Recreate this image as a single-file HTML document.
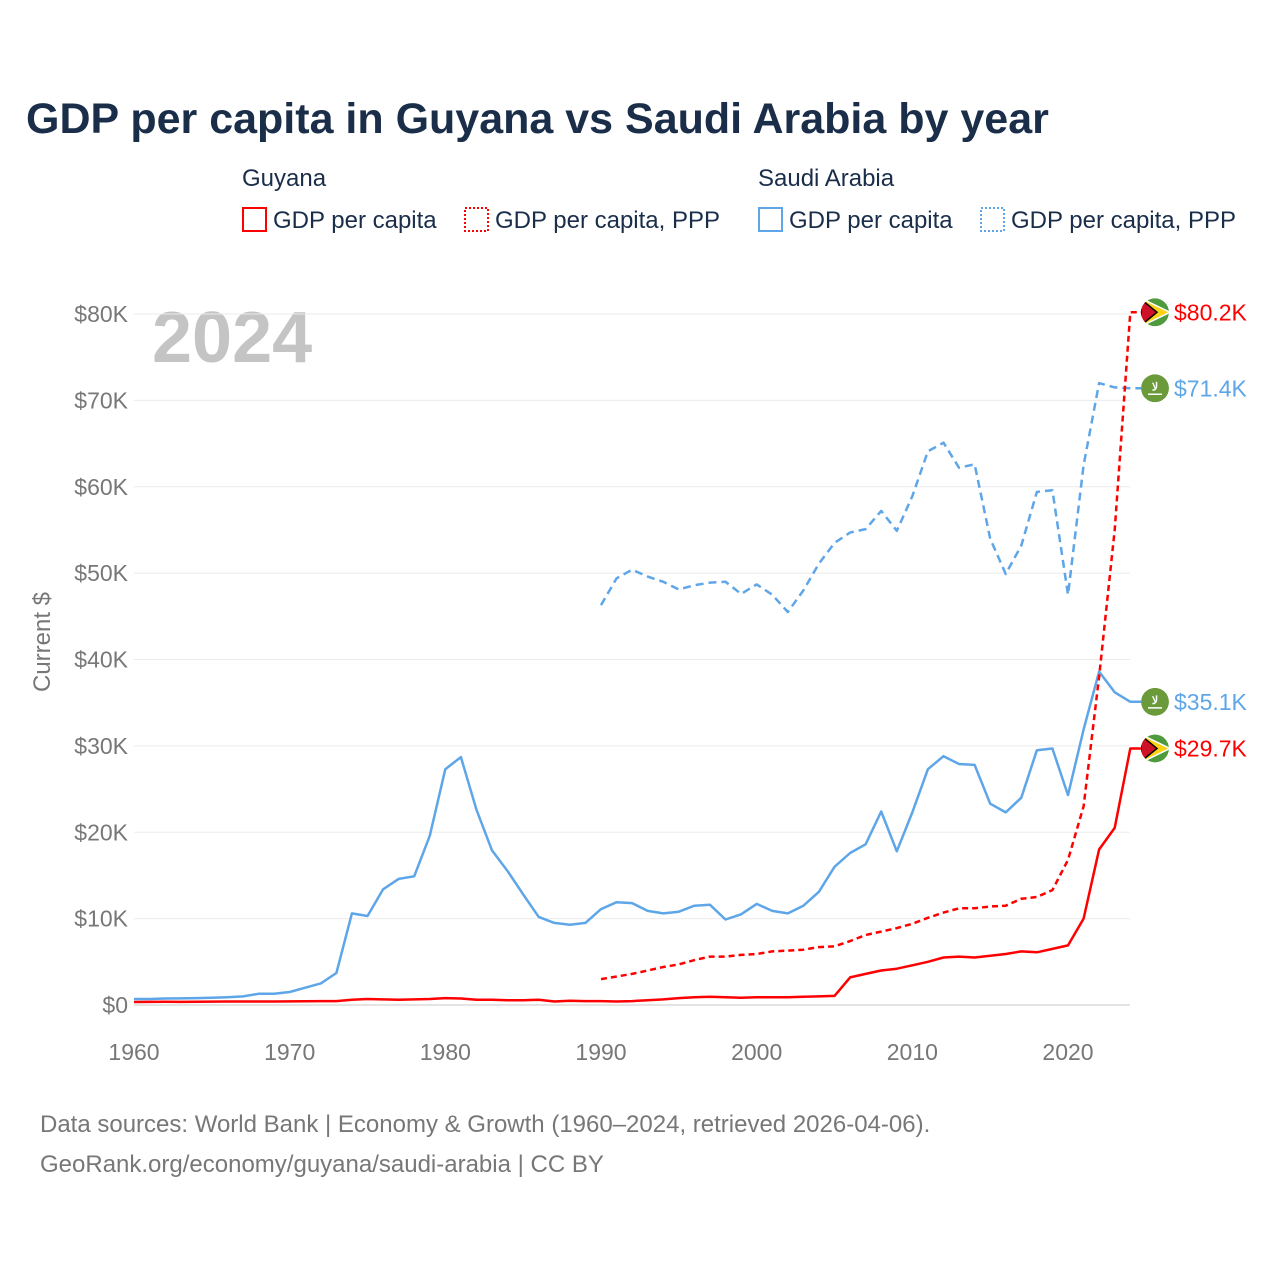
<!DOCTYPE html>
<html><head><meta charset="utf-8">
<style>
body{margin:0;background:#fff;}
svg text{font-family:"Liberation Sans",sans-serif;}
</style></head>
<body>
<svg id="chart" width="1280" height="1280" xmlns="http://www.w3.org/2000/svg">
<defs id="defs"></defs>
<text x="26" y="133" font-size="43" font-weight="bold" fill="#1a2e4a">GDP per capita in Guyana vs Saudi Arabia by year</text>
<g font-size="24" fill="#1a2e4a">
<text x="242" y="186">Guyana</text>
<text x="758" y="186">Saudi Arabia</text>
<rect x="243" y="208" width="23" height="23" fill="none" stroke="#ff0000" stroke-width="2"/>
<text x="273" y="228">GDP per capita</text>
<rect x="465" y="208" width="23" height="23" fill="none" stroke="#ff0000" stroke-width="2" stroke-dasharray="2,2"/>
<text x="495" y="228">GDP per capita, PPP</text>
<rect x="759" y="208" width="23" height="23" fill="none" stroke="#5ea6e8" stroke-width="2"/>
<text x="789" y="228">GDP per capita</text>
<rect x="981" y="208" width="23" height="23" fill="none" stroke="#5ea6e8" stroke-width="2" stroke-dasharray="2,2"/>
<text x="1011" y="228">GDP per capita, PPP</text>
</g>
<text x="152" y="362" font-size="72" font-weight="bold" fill="#c4c4c4">2024</text>
<text transform="translate(50,642) rotate(-90)" text-anchor="middle" font-size="24" fill="#777">Current $</text>
<g id="grid"></g><g id="axes"></g><g id="series"></g><g id="ends"></g>
<text x="40" y="1132" font-size="24" fill="#777">Data sources: World Bank | Economy &amp; Growth (1960–2024, retrieved 2026-04-06).</text>
<text x="40" y="1172" font-size="24" fill="#777">GeoRank.org/economy/guyana/saudi-arabia | CC BY</text>
</svg>
<script>
const yTicks=[0,10,20,30,40,50,60,70,80];
const xTicks=[1960,1970,1980,1990,2000,2010,2020];
const saudiGdp=[0.7,0.7,0.75,0.76,0.8,0.85,0.9,1.0,1.3,1.3,1.5,2.0,2.5,3.7,10.6,10.3,13.4,14.6,14.9,19.6,27.3,28.7,22.6,17.9,15.5,12.8,10.2,9.5,9.3,9.5,11.1,11.9,11.8,10.9,10.6,10.8,11.5,11.6,9.9,10.5,11.7,10.9,10.6,11.5,13.1,16.0,17.6,18.6,22.4,17.8,22.3,27.3,28.8,27.9,27.8,23.3,22.3,24.0,29.5,29.7,24.3,31.9,38.6,36.2,35.1];
const saudiPpp=[46.3,49.4,50.4,49.6,49.0,48.1,48.6,48.9,49.0,47.6,48.7,47.5,45.5,48.0,51.1,53.5,54.7,55.1,57.2,54.9,58.9,64.1,65.1,62.2,62.6,54.0,49.9,53.2,59.4,59.6,47.5,62.5,72.0,71.5,71.4];
const guyanaGdp=[0.35,0.36,0.37,0.36,0.38,0.39,0.4,0.4,0.4,0.4,0.42,0.43,0.45,0.45,0.6,0.7,0.65,0.6,0.65,0.7,0.8,0.75,0.6,0.6,0.55,0.55,0.6,0.4,0.5,0.45,0.45,0.4,0.45,0.55,0.65,0.8,0.9,0.95,0.9,0.85,0.9,0.9,0.9,0.95,1.0,1.05,3.2,3.6,4.0,4.2,4.6,5.0,5.5,5.6,5.5,5.7,5.9,6.2,6.1,6.5,6.9,10.0,18.0,20.5,29.7];
const guyanaPpp=[3.0,3.3,3.6,4.0,4.4,4.7,5.2,5.6,5.6,5.8,5.9,6.2,6.3,6.4,6.7,6.8,7.4,8.1,8.5,8.9,9.4,10.1,10.7,11.2,11.2,11.4,11.5,12.3,12.5,13.3,16.8,23.0,38.0,55.0,80.2];
const X=y=>134+(y-1960)*(1068-134)/60;
const Y=v=>1005-v*(1005-314)/80;
const NS="http://www.w3.org/2000/svg";
function mk(tag,attrs,parent){const e=document.createElementNS(NS,tag);for(const k in attrs)e.setAttribute(k,attrs[k]);document.getElementById(parent).appendChild(e);return e;}
yTicks.forEach(t=>{
 const l=mk('line',{x1:X(1960),x2:1130,y1:Y(t),y2:Y(t),stroke:t===0?'#e4e4e4':'#ebebeb','stroke-width':t===0?2:1},'grid');
 
 
 const tx=mk('text',{x:128,y:Y(t)+8,'text-anchor':'end','font-size':23,fill:'#777'},'axes');
 tx.textContent='$'+t+(t?'K':'');
 
 
});
xTicks.forEach(t=>{
 const tx=mk('text',{x:X(t),y:1060,'text-anchor':'middle','font-size':23,fill:'#777'},'axes');
 tx.textContent=t;
 
 
});
function line(vals,start,color,dash,name){
 let d=vals.map((v,i)=>(i?'L':'M')+X(start+i).toFixed(1)+','+Y(v).toFixed(1)).join('');
 d+='L1141,'+Y(vals[vals.length-1]).toFixed(1);
 const p=mk('path',{d:d,fill:'none',stroke:color,'stroke-width':2.5,'stroke-dasharray':dash,'stroke-linejoin':'round'},'series');
 
 
}
line(saudiGdp,1960,'#5ea6e8','none','line-saudi-gdp');
line(saudiPpp,1990,'#5ea6e8','8,5','line-saudi-ppp');
line(guyanaGdp,1960,'#ff0000','none','line-guyana-gdp');
line(guyanaPpp,1990,'#ff0000','6,4','line-guyana-ppp');
let cid=0;
function endLabel(v,color,country,name){
 const cx=1155,cy=Y(v);
 const id='clip'+(cid++);
 const cp=mk('clipPath',{id:id},'defs');
 const cc=document.createElementNS(NS,'circle');cc.setAttribute('cx',cx);cc.setAttribute('cy',cy);cc.setAttribute('r',14);cp.appendChild(cc);
 const g=mk('g',{},'ends');
 
 
 const add=(tag,a,par)=>{const e=document.createElementNS(NS,tag);for(const k in a)e.setAttribute(k,a[k]);(par||g).appendChild(e);return e;};
 const fg=add('g',{'clip-path':'url(#'+id+')'});
 add('circle',{cx:cx,cy:cy,r:14,fill:country==='gy'?'#4e9a3c':'#6a9a3a'},fg);
 if(country==='gy'){
  add('path',{d:`M${cx-14},${cy-14} L${cx+15},${cy} L${cx-14},${cy+14}Z`,fill:'#fcd116',stroke:'#fff','stroke-width':1.5},fg);
  add('path',{d:`M${cx-14},${cy-13} L${cx+2},${cy} L${cx-14},${cy+13}Z`,fill:'#ce1126',stroke:'#000','stroke-width':1.5},fg);
 } else {
  const t=add('text',{x:cx,y:cy+2,'text-anchor':'middle','font-size':11,'font-weight':'bold',fill:'#fff'},fg);t.textContent='لا';
  add('line',{x1:cx-7,x2:cx+7,y1:cy+6,y2:cy+6,stroke:'#fff','stroke-width':1.5},fg);
 }
 const tx=add('text',{x:1174,y:cy+8,'font-size':23,fill:color});
 tx.textContent='$'+v.toFixed(1)+'K';
}
endLabel(guyanaPpp[guyanaPpp.length-1],'#ff0000','gy','end-label-guyana-ppp');
endLabel(saudiPpp[saudiPpp.length-1],'#5ea6e8','sa','end-label-saudi-ppp');
endLabel(saudiGdp[saudiGdp.length-1],'#5ea6e8','sa','end-label-saudi-gdp');
endLabel(guyanaGdp[guyanaGdp.length-1],'#ff0000','gy','end-label-guyana-gdp');
</script>
</body></html>
